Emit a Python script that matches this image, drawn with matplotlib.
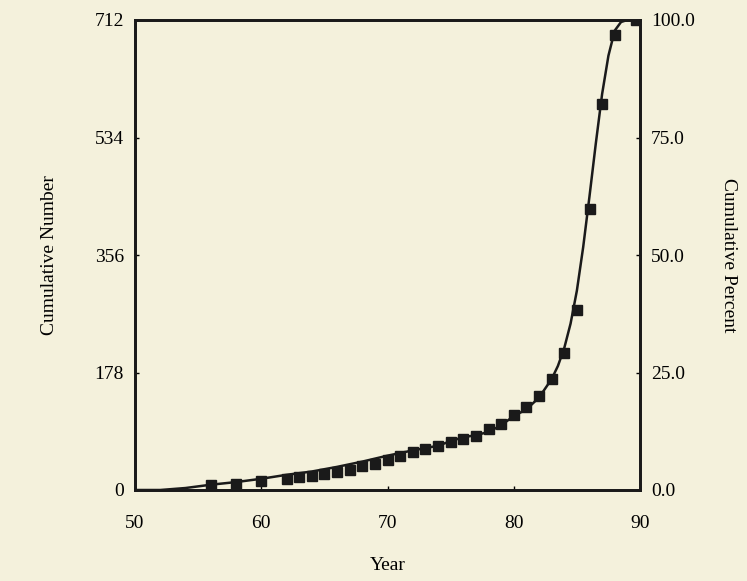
import matplotlib
matplotlib.use("Agg")
import matplotlib.pyplot as plt

# squares: cumulative number by year
years = [56, 58, 60, 62, 63, 64, 65, 66, 67, 68, 69, 70, 71, 72, 73, 74, 75,
         76, 77, 78, 79, 80, 81, 82, 83, 84, 85, 86, 87, 88, 89.7]
counts = [8, 9, 13, 16, 19, 21, 24, 28, 31, 36, 40, 46, 51, 58, 62, 66, 73,
          77, 82, 92, 100, 114, 125, 143, 168, 208, 272, 425, 585, 690, 712]

# fitted curve
curve_x = [50, 52, 54, 56, 58, 60, 62, 64, 66, 68, 70, 72, 74, 75, 76, 77, 78,
           79, 80, 81, 82, 83, 83.5, 84, 84.5, 85, 85.5, 86, 86.5, 87, 87.5,
           88, 88.5, 89, 90]
curve_y = [0, 0, 3, 8, 12, 17, 23, 28, 35, 43, 52, 60, 67, 74, 80, 83, 88,
           98, 112, 122, 140, 168, 188, 215, 252, 302, 368, 445, 525, 600, 658,
           696, 709, 712, 712]

bg = "#f4f1dc"
ink = "#1a1a1a"
plt.rcParams['font.family'] = ['Liberation Serif', 'DejaVu Serif']

fig = plt.figure(figsize=(7.47, 5.81), dpi=100, facecolor=bg)
ax = fig.add_axes([135/747, 1-490/581, 505/747, 470/581], facecolor=bg)

ax.plot(curve_x, curve_y, color=ink, linewidth=1.8)
ax.plot(years, counts, "s", color=ink, markersize=6.5)

ax.set_xlim(50, 90)
ax.set_ylim(0, 712)
ax.set_xticks([50, 60, 70, 80, 90])
ax.set_yticks([0, 178, 356, 534, 712])
ax.set_xlabel("Year", fontsize=14, labelpad=18)
ax.set_ylabel("Cumulative Number", fontsize=14, labelpad=26)
ax.tick_params(direction="in", length=3, width=1, labelsize=14, pad=8)
ax.tick_params(axis="x", pad=18)
for s in ax.spines.values():
    s.set_linewidth(2)
    s.set_color(ink)

ax2 = ax.twinx()
ax2.set_ylim(0, 100)
ax2.set_yticks([0, 25, 50, 75, 100])
ax2.set_yticklabels(["0.0", "25.0", "50.0", "75.0", "100.0"])
ax2.tick_params(direction="in", length=3, width=1, labelsize=14, pad=8)
ax2.set_ylabel("Cumulative Percent", fontsize=14, rotation=270, labelpad=30)
for s in ax2.spines.values():
    s.set_linewidth(2)
    s.set_color(ink)

fig.savefig("out.png", dpi=100, facecolor=bg)
